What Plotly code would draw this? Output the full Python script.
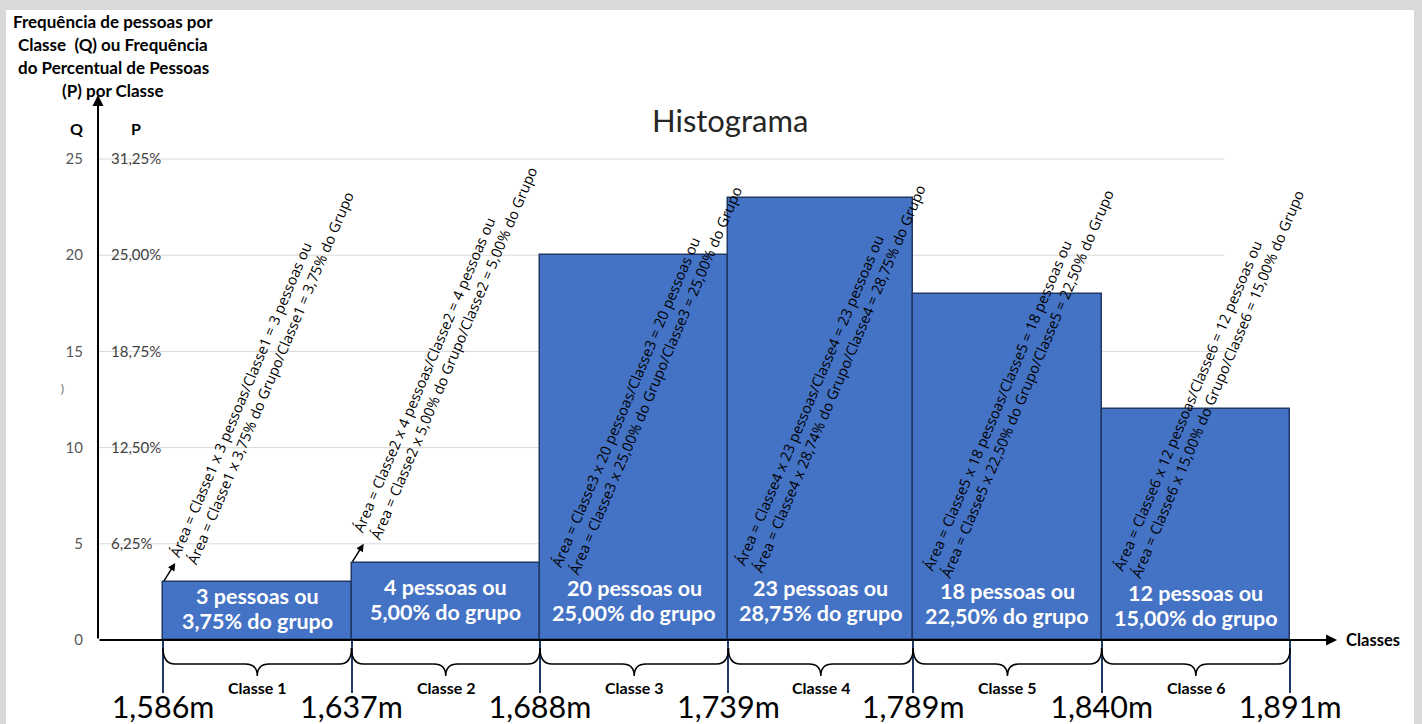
import plotly.graph_objects as go

# ---- data ----
classes = ["Classe 1", "Classe 2", "Classe 3", "Classe 4", "Classe 5", "Classe 6"]
edges = [1.586, 1.637, 1.688, 1.739, 1.789, 1.840, 1.891]
pessoas = [3, 4, 20, 23, 18, 12]
percentual = [3.75, 5.00, 25.00, 28.75, 22.50, 15.00]
q_ticks = [0, 5, 10, 15, 20, 25]
p_ticks = [6.25, 12.50, 18.75, 25.00, 31.25]
notas_area = [
    "Área = Classe1 x 3 pessoas/Classe1 = 3 pessoas ou<br>Área = Classe1 x 3,75% do Grupo/Classe1 = 3,75% do Grupo",
    "Área = Classe2 x 4 pessoas/Classe2 = 4 pessoas ou<br>Área = Classe2 x 5,00% do Grupo/Classe2 = 5,00% do Grupo",
    "Área = Classe3 x 20 pessoas/Classe3 = 20 pessoas ou<br>Área = Classe3 x 25,00% do Grupo/Classe3 = 25,00% do Grupo",
    "Área = Classe4 x 23 pessoas/Classe4 = 23 pessoas ou<br>Área = Classe4 x 28,74% do Grupo/Classe4 = 28,75% do Grupo",
    "Área = Classe5 x 18 pessoas/Classe5 = 18 pessoas ou<br>Área = Classe5 x 22,50% do Grupo/Classe5 = 22,50% do Grupo",
    "Área = Classe6 x 12 pessoas/Classe6 = 12 pessoas ou<br>Área = Classe6 x 15,00% do Grupo/Classe6 = 15,00% do Grupo",
]

# ---- layout geometry ----
FONT = "Lato"
W, H = 1422, 724
ML, MR, MT, MB = 98, 82, 99, 84
PW, PH = W - ML - MR, H - MT - MB
XRANGE = [1.5684, 1.9045]
YRANGE = [0, 28.12]
Q_PER_PX = (YRANGE[1] - YRANGE[0]) / PH
P_PER_Q = 100 / sum(pessoas)  # percent of the group per person


def fmt(v, nd):
    return f"{v:.{nd}f}".replace(".", ",")


def px_x(p):
    return (p - ML) / PW


def px_y(p):
    return (H - MB - p) / PH


mids = [(a + b) / 2 for a, b in zip(edges[:-1], edges[1:])]
widths = [b - a for a, b in zip(edges[:-1], edges[1:])]

# label / note placement inside each class
label_y = [1.64, 2.10, 2.05, 2.05, 1.90, 1.77]
note_frac = [0.52, 0.50, 0.57, 0.55, 0.56, 0.57]
note_y = [13.8, 15.1, 13.7, 13.8, 13.5, 13.5]

fig = go.Figure()
fig.add_trace(go.Bar(
    x=mids, y=pessoas, width=widths,
    marker=dict(color="#4472C4", line=dict(color="#1F3864", width=1.5)),
    hoverinfo="skip", showlegend=False,
))
# percent series on the P axis (invisible, keeps the secondary scale alive)
fig.add_trace(go.Scatter(
    x=mids, y=percentual, yaxis="y2", mode="markers",
    marker=dict(opacity=0), hoverinfo="skip", showlegend=False,
))

shapes = []
# page frame
shapes.append(dict(type="rect", xref="paper", yref="paper", x0=px_x(0), x1=px_x(W), y0=px_y(0), y1=px_y(10),
                   fillcolor="#D9D9D9", line=dict(width=0), layer="above"))
shapes.append(dict(type="rect", xref="paper", yref="paper", x0=px_x(0), x1=px_x(6), y0=px_y(0), y1=px_y(H),
                   fillcolor="#D9D9D9", line=dict(width=0), layer="above"))
shapes.append(dict(type="rect", xref="paper", yref="paper", x0=px_x(1414), x1=px_x(W), y0=px_y(0), y1=px_y(H),
                   fillcolor="#D9D9D9", line=dict(width=0), layer="above"))
# horizontal gridlines
grid_end = edges[-1] - 0.35 * widths[-1]
for q in q_ticks[1:]:
    shapes.append(dict(type="line", xref="x", yref="y", x0=XRANGE[0], x1=grid_end, y0=q, y1=q,
                       line=dict(color="#D9D9D9", width=1), layer="below"))
# curly braces under each class
r = 0.0032
top, mid, tip = px_y(648), px_y(664), px_y(676)
for i in range(len(classes)):
    x0, x1, xm = edges[i], edges[i + 1], mids[i]
    path = (f"M {x0},{top} Q {x0},{mid} {x0 + r},{mid} L {xm - r},{mid} "
            f"Q {xm},{mid} {xm},{tip} Q {xm},{mid} {xm + r},{mid} "
            f"L {x1 - r},{mid} Q {x1},{mid} {x1},{top}")
    shapes.append(dict(type="path", xref="x", yref="paper", path=path,
                       line=dict(color="black", width=1.5)))

ann = []
# axis arrows
ann.append(dict(x=XRANGE[0], y=28.33, ax=XRANGE[0], ay=0, xref="x", yref="y", axref="x", ayref="y",
                showarrow=True, arrowhead=2, arrowsize=1.1, arrowwidth=2, arrowcolor="black", text=""))
ann.append(dict(x=1.9037, y=0, ax=XRANGE[0], ay=0, xref="x", yref="y", axref="x", ayref="y",
                showarrow=True, arrowhead=2, arrowsize=1.1, arrowwidth=2, arrowcolor="black", text=""))
ann.append(dict(x=1, y=0, xref="paper", yref="y", xanchor="left", yanchor="middle", xshift=4,
                text="<b>Classes</b>", showarrow=False, font=dict(family=FONT, size=16.5, color="black")))
# axis headers
header_lines = ["Frequência de pessoas por", "Classe  (Q) ou Frequência", "do Percentual de Pessoas", "(P) por Classe"]
for k, line in enumerate(header_lines):
    ann.append(dict(x=px_x(113), y=px_y(22 + k * 22.8), xref="paper", yref="paper", xanchor="center",
                    yanchor="middle", showarrow=False, text=f"<b>{line}</b>",
                    font=dict(family=FONT, size=17, color="black")))
ann.append(dict(x=px_x(76), y=px_y(128), xref="paper", yref="paper", xanchor="center", yanchor="middle",
                showarrow=False, text="<b>Q</b>", font=dict(family=FONT, size=16, color="black")))
ann.append(dict(x=px_x(136), y=px_y(128), xref="paper", yref="paper", xanchor="center", yanchor="middle",
                showarrow=False, text="<b>P</b>", font=dict(family=FONT, size=16, color="black")))
ann.append(dict(x=px_x(62), y=px_y(388), xref="paper", yref="paper", xanchor="center", yanchor="middle",
                showarrow=False, text=")", font=dict(family=FONT, size=11, color="#595959")))
# title
ann.append(dict(x=px_x(730), y=px_y(120), xref="paper", yref="paper", xanchor="center", yanchor="middle",
                showarrow=False, text="Histograma", font=dict(family=FONT, size=31, color="#262626")))

half_gap = 12.5 * Q_PER_PX
for i in range(len(classes)):
    # value label inside the bar, two lines
    for line, dy in ((f"{pessoas[i]} pessoas ou", half_gap), (f"{fmt(percentual[i], 2)}% do grupo", -half_gap)):
        ann.append(dict(x=mids[i], y=label_y[i] + dy, xref="x", yref="y", showarrow=False,
                        xanchor="center", yanchor="middle", text=f"<b>{line}</b>",
                        font=dict(family=FONT, size=21.5, color="white")))
    # area note
    ann.append(dict(x=edges[i] + note_frac[i] * widths[i], y=note_y[i], xref="x", yref="y",
                    showarrow=False, textangle=-67, align="left", xanchor="center", yanchor="middle",
                    text=notas_area[i], font=dict(family="Open Sans", size=14.5, color="black")))
    # class name under the brace
    ann.append(dict(x=mids[i], y=px_y(687), xref="x", yref="paper", showarrow=False,
                    xanchor="center", yanchor="middle",
                    text=f"<b>{classes[i]}</b>", font=dict(family=FONT, size=16, color="black")))

# pointers from the short bars to their notes
for i in range(2):
    ann.append(dict(x=edges[i] + 0.0033, y=pessoas[i] + 1.0, ax=edges[i], ay=pessoas[i],
                    xref="x", yref="y", axref="x", ayref="y", showarrow=True, arrowhead=2,
                    arrowsize=1, arrowwidth=1.5, arrowcolor="black", text=""))

fig.update_layout(
    width=W, height=H,
    margin=dict(l=ML, r=MR, t=MT, b=MB, autoexpand=False),
    paper_bgcolor="white", plot_bgcolor="rgba(0,0,0,0)",
    bargap=0, showlegend=False,
    xaxis=dict(range=XRANGE, tickvals=edges, ticktext=[fmt(e, 3) + "m" for e in edges],
               ticks="outside", ticklen=52, tickwidth=1.5, tickcolor="#1F3864", automargin=False,
               ticklabelstandoff=-12, ticklabeloverflow="allow",
               showgrid=False, zeroline=False, showline=False,
               tickfont=dict(family=FONT, size=30.5, color="black")),
    yaxis=dict(range=YRANGE, tickvals=q_ticks, ticktext=[str(q) for q in q_ticks], automargin=False,
               ticks="", showgrid=False, zeroline=False, showline=False, ticklabelstandoff=14,
               tickfont=dict(family=FONT, size=15, color="#595959")),
    yaxis2=dict(range=[YRANGE[0] * P_PER_Q, YRANGE[1] * P_PER_Q], overlaying="y", side="right",
                anchor="free", position=px_x(108),
                tickvals=p_ticks, ticktext=[fmt(p, 2) + "%" for p in p_ticks], automargin=False,
                ticks="", ticklabelstandoff=2,
                showgrid=False, zeroline=False, showline=False,
                tickfont=dict(family=FONT, size=15, color="#404040")),
    shapes=shapes, annotations=ann,
)

fig.write_html("out.html")
